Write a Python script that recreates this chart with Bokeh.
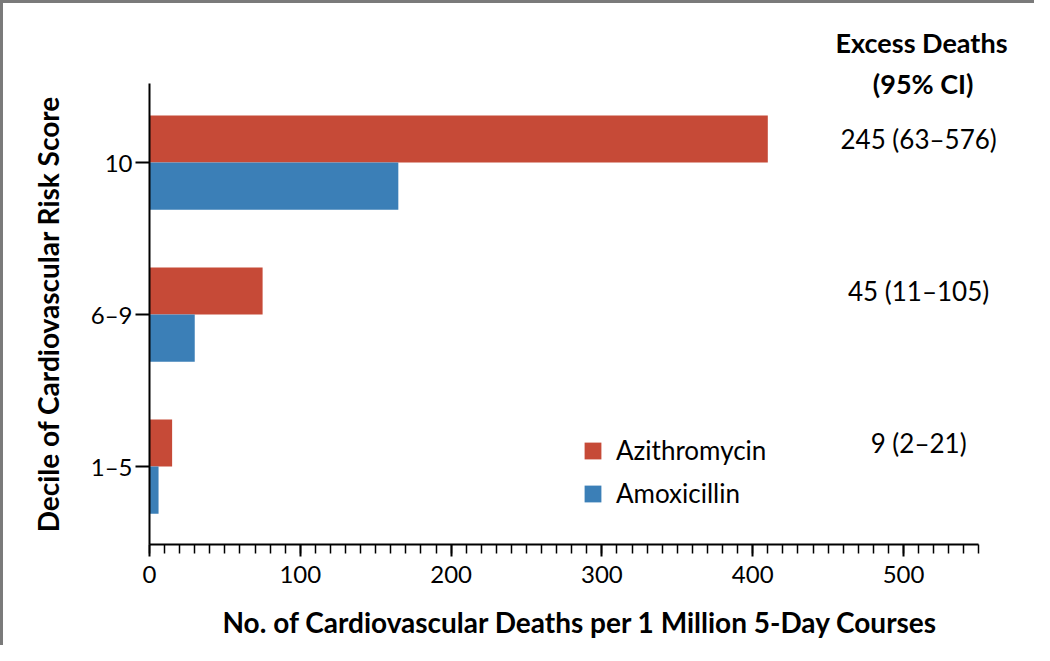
from bokeh.plotting import figure
from bokeh.models import (ColumnDataSource, Range1d, SingleIntervalTicker, FixedTicker,
                          Title, Legend, LegendItem)
from bokeh.core.properties import value
from bokeh.embed import file_html
from bokeh.resources import INLINE

# ---- data ----
deciles = ["1–5", "6–9", "10"]
azithromycin = [15, 75, 410]
amoxicillin = [6, 30, 165]
excess_deaths = ["9 (2–21)", "45 (11–105)", "245 (63–576)"]
header_lines = ["Excess Deaths", "(95% CI)"]

FONT = "Lato"
RED = "#C64A37"
BLUE = "#3B7FB7"

pos = list(range(len(deciles)))
BAR_H = 0.31
src = ColumnDataSource(dict(
    pos=pos,
    y_azi=[v + BAR_H / 2 for v in pos],
    y_amo=[v - BAR_H / 2 for v in pos],
    azi=azithromycin, amo=amoxicillin, ci=excess_deaths))

p = figure(width=1034, height=645, output_backend="svg", toolbar_location=None,
           x_range=Range1d(0, 571.6), y_range=Range1d(-0.513, 2.52),
           min_border_left=149, min_border_right=23, min_border_top=83, min_border_bottom=101)
p.styles = {"box-shadow": "inset 3px 3px 0 0 #7a7a7a"}

p.outline_line_color = None
p.grid.grid_line_color = None
p.background_fill_color = None
p.border_fill_color = None

r_azi = p.hbar(y="y_azi", right="azi", left=0, height=BAR_H,
               source=src, fill_color=RED, line_color=None)
r_amo = p.hbar(y="y_amo", right="amo", left=0, height=BAR_H,
               source=src, fill_color=BLUE, line_color=None)

p.text(x=510, y="y_azi", text="ci", source=src,
       text_font=value(FONT), text_font_size="26px", text_align="center",
       text_baseline="middle", text_color="black")

t_ci = Title(text=header_lines[1], align="right", offset=38, vertical_align="bottom",
             standoff=-32, text_font=FONT, text_font_size="27px", text_font_style="bold",
             text_color="black")
t_ex = Title(text=header_lines[0], align="right", offset=4, vertical_align="bottom",
             standoff=44, text_font=FONT, text_font_size="27px", text_font_style="bold",
             text_color="black")
p.add_layout(t_ci, "above")
p.add_layout(t_ex, "above")

legend = Legend(items=[LegendItem(label="Azithromycin", renderers=[r_azi]),
                       LegendItem(label="Amoxicillin", renderers=[r_amo])],
                location=(433, 35), orientation="vertical")
legend.border_line_color = None
legend.background_fill_alpha = 0
legend.padding = 0
legend.margin = 0
legend.spacing = 11
legend.glyph_width = 21
legend.glyph_height = 21
legend.label_height = 21
legend.label_standoff = 13
legend.label_text_font = FONT
legend.label_text_font_size = "26px"
legend.label_text_color = "black"
legend.label_text_baseline = "middle"
p.add_layout(legend)

xa = p.xaxis[0]
xa.bounds = (0, 550)
xa.ticker = SingleIntervalTicker(interval=100, num_minor_ticks=10)
xa.axis_line_width = 2
xa.axis_line_color = "black"
xa.major_tick_in = 0
xa.major_tick_out = 12
xa.minor_tick_in = 0
xa.minor_tick_out = 9
xa.major_tick_line_width = 2
xa.minor_tick_line_width = 1.5
xa.major_tick_line_color = "black"
xa.minor_tick_line_color = "black"
xa.major_label_standoff = 9
xa.major_label_text_font = FONT
xa.major_label_text_font_size = "24px"
xa.major_label_text_color = "black"
xa.axis_label = "No. of Cardiovascular Deaths per 1 Million 5-Day Courses"
xa.axis_label_text_font = FONT
xa.axis_label_text_font_size = "28px"
xa.axis_label_text_font_style = "bold"
xa.axis_label_text_color = "black"
xa.axis_label_standoff = 19

ya = p.yaxis[0]
ya.ticker = FixedTicker(ticks=pos)
ya.major_label_overrides = {i: d for i, d in zip(pos, deciles)}
ya.minor_tick_line_color = None
ya.axis_line_width = 2
ya.axis_line_color = "black"
ya.major_tick_in = 0
ya.major_tick_out = 14
ya.major_tick_line_width = 2
ya.major_tick_line_color = "black"
ya.major_label_standoff = 3
ya.major_label_text_font = FONT
ya.major_label_text_font_size = "24px"
ya.major_label_text_color = "black"
ya.axis_label = "Decile of Cardiovascular Risk Score"
ya.axis_label_text_font = FONT
ya.axis_label_text_font_size = "28px"
ya.axis_label_text_font_style = "bold"
ya.axis_label_text_color = "black"
ya.axis_label_standoff = 23

open("out.html", "w").write(file_html(p, INLINE))
